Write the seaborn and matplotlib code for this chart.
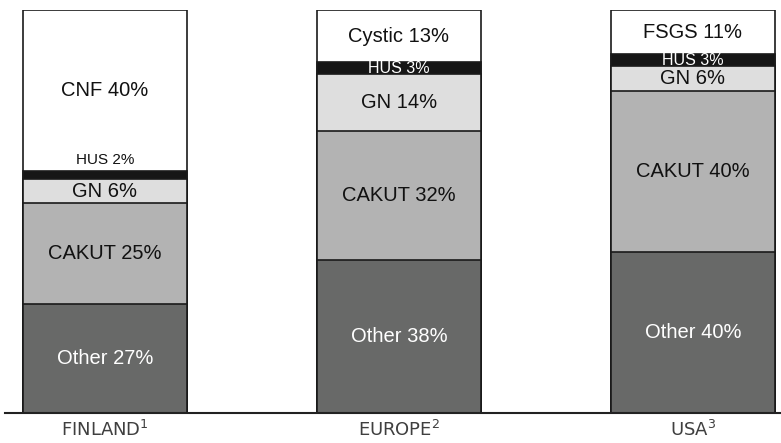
import numpy as np
import pandas as pd
import matplotlib
matplotlib.use("Agg")
import matplotlib.pyplot as plt
import seaborn as sns

regions = ["FINLAND$^{1}$", "EUROPE$^{2}$", "USA$^{3}$"]
layers = ["Other", "CAKUT", "GN", "HUS", "Top"]
other = [27, 38, 40]
cakut = [25, 32, 40]
gn = [6, 14, 6]
hus = [2, 3, 3]
top = [40, 13, 11]
top_names = ["CNF", "Cystic", "FSGS"]

fills = ["#686968", "#b3b3b3", "#dedede", "#161616", "#ffffff"]
text_colors = ["white", "#111111", "#111111", "white", "#111111"]

sns.set_theme(style="white")
plt.rcParams["font.family"] = ["Liberation Sans", "DejaVu Sans"]
plt.rcParams["mathtext.default"] = "regular"

fig = plt.figure(figsize=(7.81, 4.43), dpi=100)
ax = fig.add_axes([0.0064, 0.0677, 0.9936, 0.9097])

vals = np.array([other, cakut, gn, hus, top], dtype=float)
cum = vals.cumsum(axis=0)

# stacked bars: draw cumulative totals from the tallest down
for i in range(len(layers) - 1, -1, -1):
    df = pd.DataFrame({"region": regions, "value": cum[i]})
    sns.barplot(data=df, x="region", y="value", color=fills[i], saturation=1,
                width=0.56, edgecolor="#1a1a1a", linewidth=1.2, ax=ax)

for j in range(len(regions)):
    for i, name in enumerate(layers):
        v = vals[i, j]
        label = top_names[j] if name == "Top" else name
        base = cum[i, j] - v
        if v < 3:
            y = cum[i, j] + 2.8
            col = "#111111"
            size = 11
        else:
            y = base + v / 2
            col = text_colors[i]
            size = 11.5 if name == "HUS" else 14.5
        ax.text(j, y, f"{label} {v:.0f}%", ha="center", va="center",
                color=col, fontsize=size)

ax.set_ylim(0, 100)
ax.set_xlim(-0.34, 2.30)
ax.set_xlabel("")
ax.set_ylabel("")
ax.set_yticks([])
for s in ["top", "right", "left"]:
    ax.spines[s].set_visible(False)
ax.spines["bottom"].set_color("#222222")
ax.spines["bottom"].set_linewidth(1.5)
ax.tick_params(axis="x", length=0, pad=5, labelsize=13, labelcolor="#3f3f3f")
for t in ax.get_xticklabels():
    t.set_fontfamily(["DejaVu Sans"])

fig.savefig("out.png", dpi=100)
